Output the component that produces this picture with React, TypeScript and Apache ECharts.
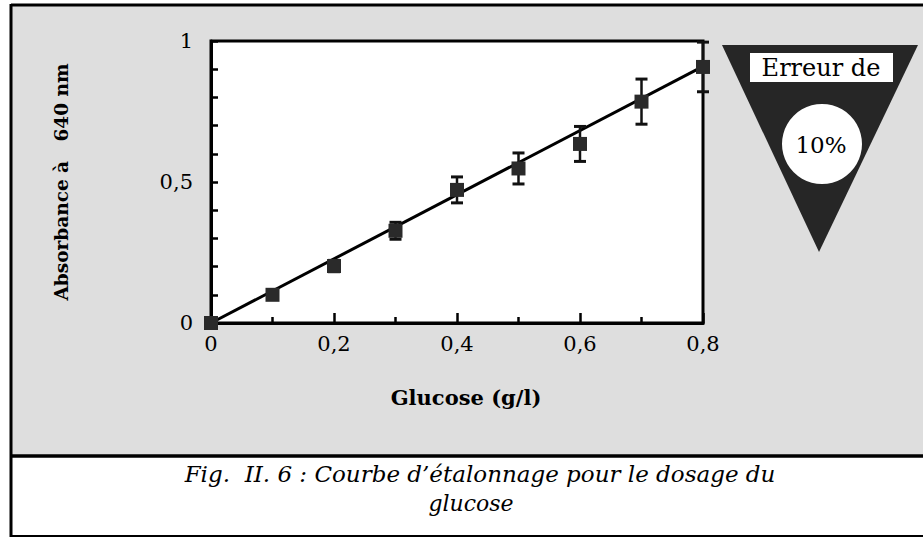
import React, { useEffect, useRef } from "react";
import * as echarts from "echarts";

// ---- data ----
const glucose = [0, 0.1, 0.2, 0.3, 0.4, 0.5, 0.6, 0.7, 0.8];
const absorbance = [0, 0.1, 0.202, 0.327, 0.472, 0.548, 0.635, 0.785, 0.908];
const errorHalf = [0, 0.01, 0.02, 0.03, 0.046, 0.055, 0.062, 0.08, 0.088];
const fitX = [0, 0.8];
const fitY = [0, 0.91];
const xTickLabels = ["0", "0,2", "0,4", "0,6", "0,8"];
const yTickLabels = ["0", "0,5", "1"];
const xTitle = "Glucose (g/l)";
const yTitle = "Absorbance à   640 nm";
const errLabelTop = "Erreur de";
const errLabelValue = "10%";
const captionLine1 = "Fig.  II. 6 : Courbe d’étalonnage pour le dosage du";
const captionLine2 = "glucose";

const SERIF = "'DejaVu Serif', 'Liberation Serif', serif";

export default function App() {
  const ref = useRef<HTMLDivElement>(null);

  useEffect(() => {
    if (!ref.current) return;
    const chart = echarts.init(ref.current, null, { renderer: "svg" });

    const points = glucose.map((x, i) => [x, absorbance[i]]);
    const errData = glucose.map((x, i) => [x, absorbance[i], errorHalf[i]]);
    const fit = fitX.map((x, i) => [x, fitY[i]]);

    const option: any = {
      animation: false,
      backgroundColor: "#ffffff",
      graphic: [
        // upper stippled panel
        { type: "rect", z: -100, silent: true, shape: { x: 11, y: 5, width: 930, height: 451 }, style: { fill: "#dedede" } },
        // frame lines
        { type: "line", z: 50, silent: true, shape: { x1: 11, y1: 5, x2: 923, y2: 5 }, style: { stroke: "#000", lineWidth: 3 } },
        { type: "line", z: 50, silent: true, shape: { x1: 11, y1: 4, x2: 11, y2: 537 }, style: { stroke: "#000", lineWidth: 3 } },
        { type: "line", z: 50, silent: true, shape: { x1: 11, y1: 456, x2: 923, y2: 456 }, style: { stroke: "#000", lineWidth: 3.5 } },
        { type: "line", z: 50, silent: true, shape: { x1: 11, y1: 536, x2: 923, y2: 536 }, style: { stroke: "#000", lineWidth: 2 } },
        // triangle
        { type: "polygon", z: 50, silent: true, shape: { points: [[722, 45], [918, 45], [819, 252]] }, style: { fill: "#262626" } },
        { type: "rect", z: 51, silent: true, shape: { x: 750, y: 53, width: 143, height: 29 }, style: { fill: "#ffffff" } },
        { type: "text", z: 52, silent: true, x: 821, y: 68, style: { text: errLabelTop, font: `24px ${SERIF}`, fill: "#000", align: "center", verticalAlign: "middle" } },
        { type: "circle", z: 51, silent: true, shape: { cx: 822, cy: 144, r: 40 }, style: { fill: "#ffffff" } },
        { type: "text", z: 52, silent: true, x: 821, y: 145, style: { text: errLabelValue, font: `23px ${SERIF}`, fill: "#000", align: "center", verticalAlign: "middle" } },
        // caption
        { type: "text", z: 52, silent: true, x: 480, y: 474, style: { text: captionLine1, font: `italic 23px ${SERIF}`, fill: "#000", align: "center", verticalAlign: "middle" } },
        { type: "text", z: 52, silent: true, x: 471, y: 503, style: { text: captionLine2, font: `italic 22px ${SERIF}`, fill: "#000", align: "center", verticalAlign: "middle" } },
      ],
      grid: {
        left: 211,
        top: 41,
        width: 492,
        height: 282,
        show: true,
        backgroundColor: "#ffffff",
        borderColor: "#000",
        borderWidth: 3,
      },
      xAxis: {
        type: "value",
        min: 0,
        max: 0.8,
        interval: 0.2,
        name: xTitle,
        nameLocation: "middle",
        nameGap: 64,
        nameTextStyle: { fontFamily: SERIF, fontWeight: "bold", fontSize: 21, color: "#000", padding: [0, 0, 0, 18] },
        axisLine: { show: true, lineStyle: { color: "#000", width: 3 } },
        axisTick: { show: true, inside: true, length: 10, lineStyle: { color: "#000", width: 2.5 } },
        minorTick: { show: true, splitNumber: 2, length: 6, lineStyle: { color: "#000", width: 2.5 } },
        splitLine: { show: false },
        axisLabel: {
          margin: 10,
          fontFamily: SERIF,
          fontSize: 21,
          color: "#000",
          formatter: (v: number) => xTickLabels[Math.round(v / 0.2)] ?? "",
        },
      },
      yAxis: {
        type: "value",
        min: 0,
        max: 1,
        interval: 0.5,
        name: yTitle,
        nameLocation: "middle",
        nameRotate: 90,
        nameGap: 140,
        nameTextStyle: { fontFamily: SERIF, fontWeight: "bold", fontSize: 18.5, color: "#000" },
        axisLine: { show: true, lineStyle: { color: "#000", width: 3 } },
        axisTick: { show: true, inside: true, length: 7, lineStyle: { color: "#000", width: 2.5 } },
        minorTick: { show: true, splitNumber: 5, length: 7, lineStyle: { color: "#000", width: 2.5 } },
        splitLine: { show: false },
        axisLabel: {
          margin: 18,
          fontFamily: SERIF,
          fontSize: 21,
          color: "#000",
          padding: [0, 0, 8, 0],
          formatter: (v: number) => yTickLabels[Math.round(v / 0.5)] ?? "",
        },
      },
      series: [
        {
          type: "line",
          data: fit,
          showSymbol: false,
          symbol: "none",
          clip: false,
          lineStyle: { color: "#000", width: 3 },
          z: 2,
        },
        {
          type: "custom",
          data: errData,
          clip: false,
          z: 3,
          renderItem: (params: any, api: any) => {
            const x = api.value(0);
            const y = api.value(1);
            const e = api.value(2);
            if (!e) return null;
            const top = api.coord([x, y + e]);
            const bot = api.coord([x, y - e]);
            const hw = 6;
            return {
              type: "group",
              children: [
                { type: "line", shape: { x1: top[0], y1: top[1], x2: bot[0], y2: bot[1] }, style: { stroke: "#111", lineWidth: 2.5 } },
                { type: "line", shape: { x1: top[0] - hw, y1: top[1], x2: top[0] + hw, y2: top[1] }, style: { stroke: "#111", lineWidth: 3 } },
                { type: "line", shape: { x1: bot[0] - hw, y1: bot[1], x2: bot[0] + hw, y2: bot[1] }, style: { stroke: "#111", lineWidth: 3 } },
              ],
            };
          },
        },
        {
          type: "scatter",
          data: points,
          symbol: "rect",
          symbolSize: 14,
          clip: false,
          itemStyle: { color: "#2a2a2a", opacity: 1 },
          z: 4,
        },
      ],
    };

    chart.setOption(option);
    return () => chart.dispose();
  }, []);

  return (
    <div
      ref={ref}
      style={{ position: "absolute", left: 0, top: 0, width: 923, height: 537 }}
    />
  );
}
